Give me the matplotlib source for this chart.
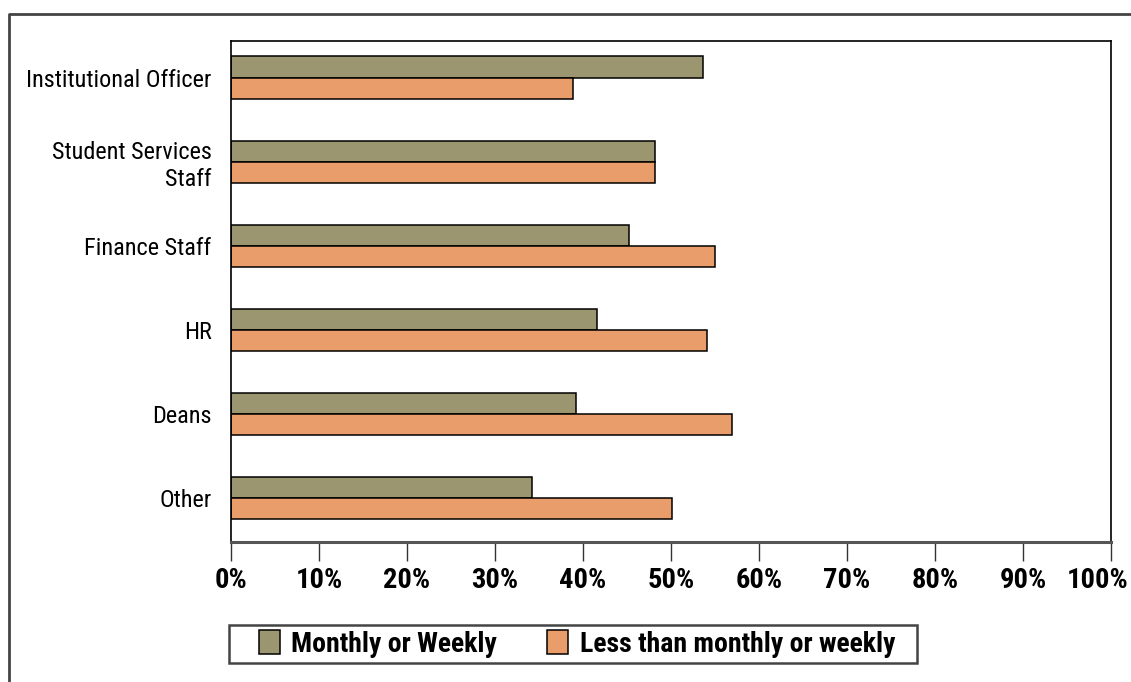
import matplotlib
matplotlib.use("Agg")
import matplotlib.pyplot as plt
import matplotlib.transforms as mtransforms
import numpy as np
from matplotlib.lines import Line2D
from matplotlib.patches import Rectangle
from matplotlib import font_manager

# data
categories = ["Institutional Officer", "Student Services\nStaff", "Finance Staff",
              "HR", "Deans", "Other"]
monthly_weekly = [53.6, 48.2, 45.2, 41.6, 39.2, 34.2]
less_than = [38.9, 48.2, 55.0, 54.1, 56.9, 50.1]
series_names = ["Monthly or Weekly", "Less than monthly or weekly"]
xticks = [0, 10, 20, 30, 40, 50, 60, 70, 80, 90, 100]

# condensed font if there is one, otherwise DejaVu at smaller sizes
names = {f.name for f in font_manager.fontManager.ttflist}
family = None
for cand in ["Roboto Condensed", "Archivo Narrow", "Liberation Sans Narrow", "Asap Condensed"]:
    if cand in names:
        family = cand
        break
if family:
    plt.rcParams['font.family'] = [family, 'DejaVu Sans']
    cat_size, tick_size, leg_size = 17.5, 20.5, 20
else:
    plt.rcParams['font.family'] = ['DejaVu Sans']
    cat_size, tick_size, leg_size = 13, 14, 14

W, H = 1131, 682
fig = plt.figure(figsize=(W / 100, H / 100), dpi=100)
ax = fig.add_axes([231 / W, 1 - 542 / H, (1111 - 231) / W, (542 - 40.5) / H])

y = np.arange(len(categories))
h = 0.25
b1 = ax.barh(y - h / 2, monthly_weekly, height=h, color="#9c9670", edgecolor="black",
             linewidth=1.1, label=series_names[0])
b2 = ax.barh(y + h / 2, less_than, height=h, color="#e89d6b", edgecolor="black",
             linewidth=1.1, label=series_names[1])

ax.set_xlim(0, 100)
ax.set_ylim(5.52, -0.44)
ax.set_yticks(y)
ax.set_yticklabels(categories, fontsize=cat_size, ha="right", multialignment="right")
ax.tick_params(axis="y", length=0, pad=14)

ax.set_xticks(xticks)
ax.set_xticklabels([f"{t}%" for t in xticks], fontsize=tick_size, fontweight="bold")
ax.tick_params(axis="x", length=14, width=1, color="#333333", pad=4)
# last label sits a bit left of its tick so it fits in the picture
last = ax.get_xticklabels()[-1]
last.set_transform(last.get_transform() +
                   mtransforms.ScaledTranslation(-13 / 100, 0, fig.dpi_scale_trans))

for s in ["top", "right", "left"]:
    ax.spines[s].set_linewidth(1.2)
    ax.spines[s].set_color("black")
ax.spines["bottom"].set_linewidth(2.2)
ax.spines["bottom"].set_color("#555555")

# legend box drawn separately, legend itself without frame
fig.add_artist(Rectangle((229 / W, 1 - 663 / H), (917 - 229) / W, (663 - 625) / H,
                         transform=fig.transFigure, fill=False, edgecolor="#444444",
                         linewidth=1.8))
fig.legend([b1, b2], series_names, loc="center", bbox_to_anchor=(577 / W, 1 - 644 / H),
           ncol=2, frameon=False, prop={"size": leg_size, "weight": "bold"},
           handlelength=0.75, handleheight=0.95, handletextpad=0.42,
           columnspacing=1.8, borderpad=0.2)

# outer frame (left and top only visible)
fig.add_artist(Line2D([9 / W, 9 / W, 1.0], [0.0, 1 - 14 / H, 1 - 14 / H],
                      transform=fig.transFigure, color="#444444", linewidth=2))

fig.savefig("out.png", dpi=100)
